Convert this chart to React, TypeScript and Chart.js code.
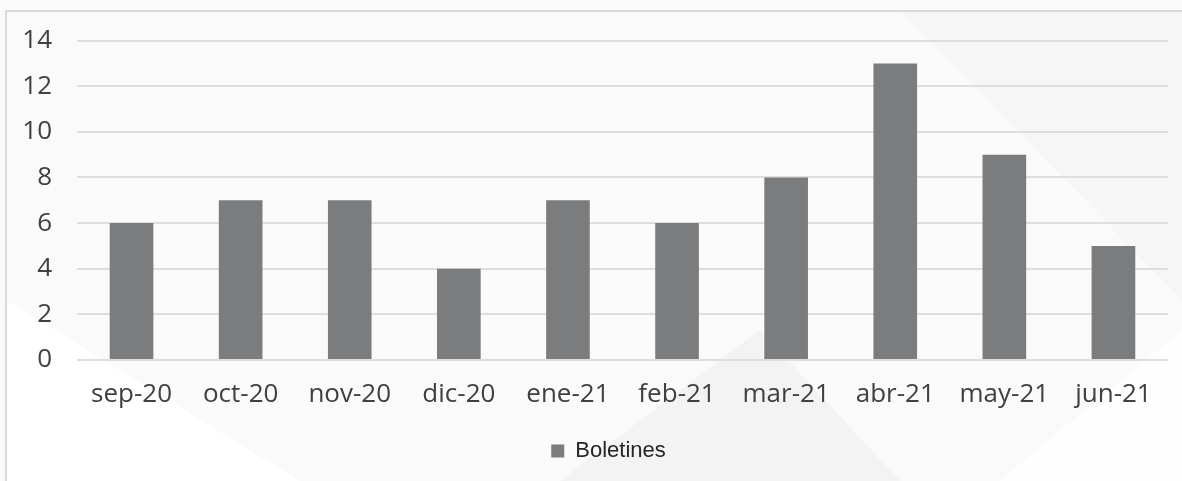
import React, { useEffect, useRef } from "react";
import { Chart, registerables } from "chart.js";

Chart.register(...registerables);

const categories = ["sep-20", "oct-20", "nov-20", "dic-20", "ene-21", "feb-21", "mar-21", "abr-21", "may-21", "jun-21"];
const boletines = [6, 7, 7, 4, 7, 6, 8, 13, 9, 5];
const seriesName = "Boletines";
const yMin = 0;
const yMax = 14;
const yStep = 2;

const backgroundPlugin = {
  id: "bgDecor",
  afterLayout(chart: any) {
    if (chart.legend) {
      chart.legend.left -= 14;
      chart.legend.right -= 14;
    }
  },
  beforeDraw(chart: any) {
    const { ctx, width, height } = chart;
    ctx.save();
    ctx.fillStyle = "#fafafa";
    ctx.fillRect(0, 0, width, height);
    // subtle diagonal shapes
    ctx.fillStyle = "rgba(255,255,255,0.9)";
    ctx.beginPath();
    ctx.moveTo(6, 300);
    ctx.lineTo(300, height);
    ctx.lineTo(6, height);
    ctx.closePath();
    ctx.fill();
    ctx.fillStyle = "rgba(238,238,238,0.6)";
    ctx.beginPath();
    ctx.moveTo(560, height);
    ctx.lineTo(760, 330);
    ctx.lineTo(900, height);
    ctx.closePath();
    ctx.fill();
    ctx.fillStyle = "rgba(245,245,245,0.8)";
    ctx.beginPath();
    ctx.moveTo(900, 10);
    ctx.lineTo(1182, 10);
    ctx.lineTo(1182, 300);
    ctx.closePath();
    ctx.fill();
    ctx.fillStyle = "rgba(255,255,255,0.8)";
    ctx.beginPath();
    ctx.moveTo(1000, height);
    ctx.lineTo(1182, 330);
    ctx.lineTo(1182, height);
    ctx.closePath();
    ctx.fill();
    // frame
    ctx.strokeStyle = "#d9d9d9";
    ctx.lineWidth = 2;
    ctx.beginPath();
    ctx.moveTo(6, height);
    ctx.lineTo(6, 11);
    ctx.lineTo(width, 11);
    ctx.stroke();
    ctx.restore();
  },
};

export default function App() {
  const ref = useRef<HTMLCanvasElement | null>(null);
  useEffect(() => {
    document.body.style.margin = "0";
    const canvas = ref.current!;
    const chart = new Chart(canvas, {
      type: "bar",
      data: {
        labels: categories,
        datasets: [
          {
            label: seriesName,
            data: boletines,
            backgroundColor: "#7b7c7e",
            borderWidth: 0,
            barPercentage: 0.4,
            categoryPercentage: 1,
          },
        ],
      },
      options: {
        responsive: false,
        animation: false,
        devicePixelRatio: 1,
        layout: { padding: { top: 28, right: 14, bottom: 9, left: 0 } },
        plugins: {
          tooltip: { enabled: false },
          legend: {
            position: "bottom",
            fullSize: false,
            labels: {
              boxWidth: 13,
              boxHeight: 13,
              color: "#262626",
              font: { family: "'Liberation Sans', Arial, sans-serif", size: 22 },
              padding: 10,
            },
          },
        },
        scales: {
          x: {
            grid: { display: false, drawTicks: false },
            border: { display: false },
            ticks: {
              color: "#404040",
              font: { family: "'Open Sans', sans-serif", size: 26 },
              padding: 19,
              maxRotation: 0,
            },
            afterFit(scale: any) {
              scale.height = 70;
            },
          },
          y: {
            min: yMin,
            max: yMax,
            grid: { color: "#dedede", lineWidth: 2, drawTicks: false },
            border: { display: false },
            ticks: {
              stepSize: yStep,
              color: "#404040",
              font: { family: "'Open Sans', sans-serif", size: 26 },
              padding: 25,
            },
            afterFit(scale: any) {
              scale.width = 77;
            },
          },
        },
      },
      plugins: [backgroundPlugin],
    });
    return () => chart.destroy();
  }, []);
  return (
    <div style={{ position: "absolute", left: 0, top: 0, width: 1182, height: 481 }}>
      <canvas ref={ref} width={1182} height={481} />
    </div>
  );
}
